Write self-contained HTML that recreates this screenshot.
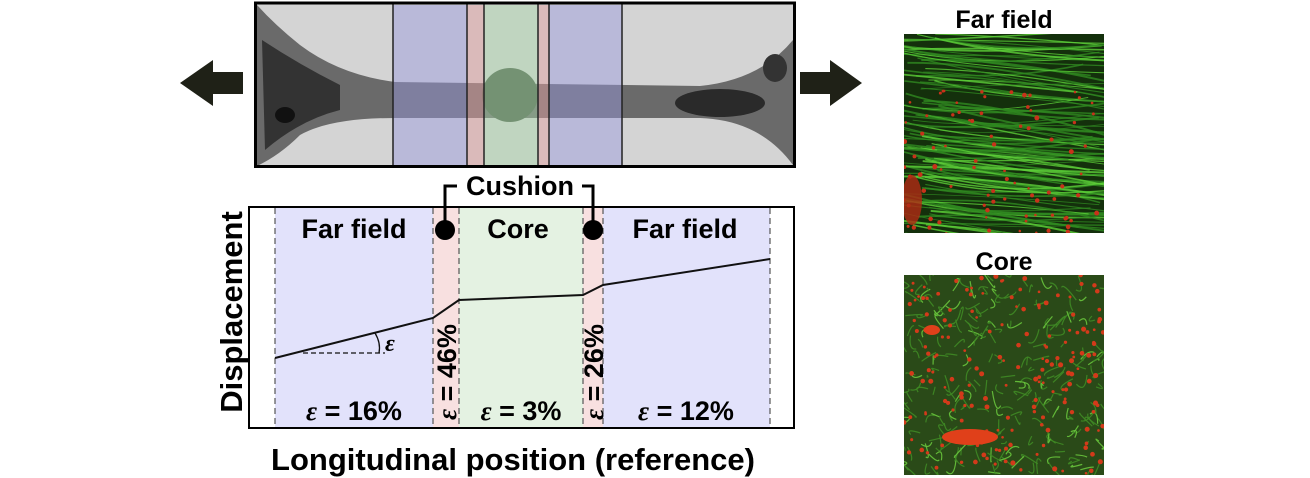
<!DOCTYPE html>
<html><head><meta charset="utf-8"><style>
html,body{margin:0;padding:0;background:#fff;}
svg{display:block;font-family:"Liberation Sans",sans-serif;}
</style></head><body>
<svg id="s" width="1310" height="478" viewBox="0 0 1310 478" xmlns="http://www.w3.org/2000/svg">
<defs>
<clipPath id="c1"><rect x="904" y="34" width="200" height="199"/></clipPath>
<clipPath id="c2"><rect x="904" y="275" width="200" height="200"/></clipPath>
</defs>
<!-- top photo -->
<rect x="255" y="3" width="540" height="164" fill="#d4d4d4"/>
<path d="M257 5 Q275 25 300 45 Q340 75 395 82 L700 86 Q760 80 793 40 L793 165 Q760 120 700 118 L395 118 Q330 118 300 135 Q280 155 257 166 Z" fill="#6a6a6a"/>
<path d="M262 40 Q300 65 340 85 L340 110 Q300 120 265 150 Z" fill="#333"/>
<ellipse cx="720" cy="103" rx="45" ry="14" fill="#2a2a2a"/>
<ellipse cx="775" cy="68" rx="12" ry="14" fill="#333"/>
<ellipse cx="285" cy="115" rx="10" ry="8" fill="#111"/>
<ellipse cx="510" cy="95" rx="28" ry="27" fill="#4a5a48"/>
<rect x="393" y="5" width="74" height="160" fill="#9a9ae0" opacity="0.45"/>
<rect x="467" y="5" width="17" height="160" fill="#e0a0a0" opacity="0.5"/>
<rect x="484" y="5" width="54" height="160" fill="#a8d8a8" opacity="0.45"/>
<rect x="538" y="5" width="11" height="160" fill="#e0a0a0" opacity="0.5"/>
<rect x="549" y="5" width="73" height="160" fill="#9a9ae0" opacity="0.45"/>
<g stroke="#222" stroke-width="1.5">
<line x1="393" y1="4" x2="393" y2="166"/><line x1="467" y1="4" x2="467" y2="166"/>
<line x1="484" y1="4" x2="484" y2="166"/><line x1="538" y1="4" x2="538" y2="166"/>
<line x1="549" y1="4" x2="549" y2="166"/><line x1="622" y1="4" x2="622" y2="166"/>
</g>
<rect x="255.5" y="3" width="539" height="163.5" fill="none" stroke="#000" stroke-width="3"/>
<!-- arrows -->
<polygon points="243,72 213,72 213,60 180,83 213,106 213,94 243,94" fill="#1f2117"/>
<polygon points="800,72 830,72 830,60 862,83 830,106 830,94 800,94" fill="#1f2117"/>
<!-- plot -->
<rect x="249" y="207" width="545" height="221" fill="#fff" stroke="#000" stroke-width="2"/>
<rect x="275" y="208" width="158" height="219" fill="#e2e2fb"/>
<rect x="433" y="208" width="26" height="219" fill="#f8e0e0"/>
<rect x="459" y="208" width="124" height="219" fill="#e4f2e2"/>
<rect x="583" y="208" width="20" height="219" fill="#f8e0e0"/>
<rect x="603" y="208" width="167" height="219" fill="#e2e2fb"/>
<g stroke="#555" stroke-width="1.2" stroke-dasharray="6,4">
<line x1="275" y1="208" x2="275" y2="427"/><line x1="433" y1="208" x2="433" y2="427"/>
<line x1="459" y1="208" x2="459" y2="427"/><line x1="583" y1="208" x2="583" y2="427"/>
<line x1="603" y1="208" x2="603" y2="427"/><line x1="770" y1="208" x2="770" y2="427"/>
</g>
<polyline points="275,358 433,318 459,300 583,295 603,285 770,259" fill="none" stroke="#111" stroke-width="2"/>
<line x1="303" y1="353" x2="385" y2="353" stroke="#111" stroke-width="1.3" stroke-dasharray="5,3"/>
<path d="M375 333 Q381 343 379 353" fill="none" stroke="#111" stroke-width="1.3"/>
<text x="385" y="351" font-size="24" font-weight="bold" font-style="italic" font-family="Liberation Serif,serif">ε</text>
<g font-size="27" font-weight="bold" text-anchor="middle" fill="#000">
<text x="354" y="238">Far field</text>
<text x="518" y="238">Core</text>
<text x="685" y="238">Far field</text>
<text x="354" y="420"><tspan font-style="italic" font-family="Liberation Serif,serif">ε</tspan> = 16%</text>
<text x="521" y="420"><tspan font-style="italic" font-family="Liberation Serif,serif">ε</tspan> = 3%</text>
<text x="686" y="420"><tspan font-style="italic" font-family="Liberation Serif,serif">ε</tspan> = 12%</text>
<text transform="translate(456,372) rotate(-90)"><tspan font-style="italic" font-family="Liberation Serif,serif">ε</tspan> = 46%</text>
<text transform="translate(603,372) rotate(-90)"><tspan font-style="italic" font-family="Liberation Serif,serif">ε</tspan> = 26%</text>
<text x="520" y="195">Cushion</text>
<text x="513" y="470" font-size="31">Longitudinal position (reference)</text>
<text transform="translate(242,312) rotate(-90)" font-size="31">Displacement</text>
<text x="1004" y="28" font-size="25">Far field</text>
<text x="1004" y="270" font-size="25">Core</text>
</g>
<polyline points="445,228 445,186 457,186" fill="none" stroke="#000" stroke-width="3"/>
<polyline points="593,228 593,186 582,186" fill="none" stroke="#000" stroke-width="3"/>
<circle cx="445" cy="230" r="10" fill="#000"/>
<circle cx="593" cy="230" r="10" fill="#000"/>
<!-- micrographs -->
<rect x="904" y="34" width="200" height="199" fill="#14300c"/>
<g id="ff" clip-path="url(#c1)"></g>
<rect x="904" y="275" width="200" height="200" fill="#2a4a18"/>
<g id="cc" clip-path="url(#c2)"></g>
</svg>
<script>
var ns="http://www.w3.org/2000/svg";var seed=7;function r(){seed=(seed*16807)%2147483647;return seed/2147483647;}
function add(g,tag,a){var e=document.createElementNS(ns,tag);for(var k in a)e.setAttribute(k,a[k]);g.appendChild(e);}
var ff=document.getElementById("ff"),cc=document.getElementById("cc");
for(var i=0;i<110;i++){var y=34+r()*200,x=880+r()*60;add(ff,"path",{d:"M"+x+" "+y+" q"+(60+r()*40)+" "+(r()*30-5)+" "+(180+r()*60)+" "+(r()*50-10),fill:"none",stroke:i%3?"#2f8a20":"#5cd038","stroke-width":0.8+r()*1.2,opacity:0.8});}
for(var i=0;i<90;i++){add(ff,"circle",{cx:904+r()*200,cy:90+r()*150,r:1.2+r()*1.3,fill:"#c8321a"});}
add(ff,"ellipse",{cx:912,cy:200,rx:10,ry:25,fill:"#b02a14",opacity:0.8});
for(var i=0;i<260;i++){var x=900+r()*210,y=270+r()*210;add(cc,"path",{d:"M"+x+" "+y+" q"+(r()*20-10)+" "+(r()*20-10)+" "+(r()*30-15)+" "+(r()*30-15),fill:"none",stroke:i%4?"#3f8a25":"#68c43c","stroke-width":1.2,opacity:0.9});}
for(var i=0;i<180;i++){add(cc,"circle",{cx:904+r()*200,cy:275+r()*200,r:1.3+r()*1.3,fill:"#d33a1a"});}
add(cc,"ellipse",{cx:970,cy:437,rx:28,ry:8,fill:"#e0401a"});
add(cc,"ellipse",{cx:932,cy:330,rx:8,ry:5,fill:"#e0401a"});
</script>
</body></html>
